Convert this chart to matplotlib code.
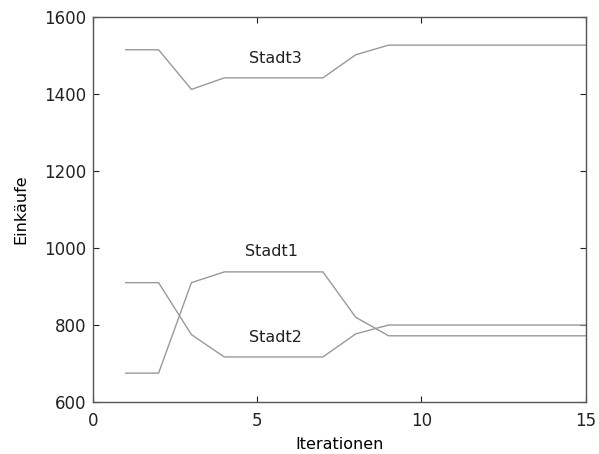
import matplotlib
matplotlib.use("Agg")
import matplotlib.pyplot as plt

plt.rcParams['font.family'] = ['DejaVu Sans']

# Iterationen und Einkäufe je Stadt
iterationen = list(range(1, 16))
stadt1 = [675, 675, 910, 938, 938, 938, 938, 820, 772, 772, 772, 772, 772, 772, 772]
stadt2 = [910, 910, 775, 717, 717, 717, 717, 777, 800, 800, 800, 800, 800, 800, 800]
stadt3 = [1515, 1515, 1412, 1442, 1442, 1442, 1442, 1502, 1527, 1527, 1527, 1527, 1527, 1527, 1527]

namen = ['Stadt1', 'Stadt2', 'Stadt3']
label_pos = [(5.45, 990), (5.55, 768), (5.55, 1492)]

fig = plt.figure(figsize=(5.99, 4.54), dpi=100)
ax = fig.add_axes([0.155, 0.1145, 0.823, 0.848])

for werte in (stadt1, stadt2, stadt3):
    ax.plot(iterationen, werte, color='#999999', linewidth=1.0)

for name, (px, py) in zip(namen, label_pos):
    ax.text(px, py, name, ha='center', va='center', fontsize=11.5, color='#222222')

ax.set_xlim(0, 15)
ax.set_ylim(600, 1600)
ax.set_xticks([0, 5, 10, 15])
ax.set_yticks([600, 800, 1000, 1200, 1400, 1600])
ax.tick_params(direction='in', top=True, right=True, labelsize=12, colors='#222222',
               length=4, width=0.8)
ax.tick_params(axis='y', pad=5)
ax.tick_params(axis='x', pad=7)
for sp in ax.spines.values():
    sp.set_color('#555555')
    sp.set_linewidth(1.0)

ax.set_xlabel('Iterationen', fontsize=11.5, labelpad=5)
ax.set_ylabel('Einkäufe', fontsize=11.5, labelpad=11)

fig.savefig('out.png', dpi=100)
